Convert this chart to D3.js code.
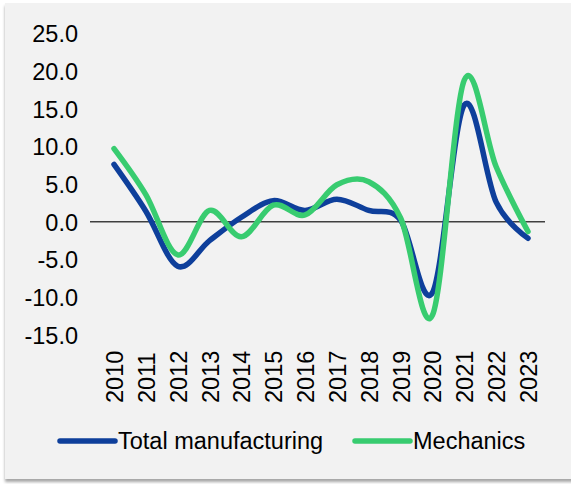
<!DOCTYPE html>
<html>
<head>
<meta charset="utf-8">
<script src="https://cdn.jsdelivr.net/npm/d3@7"></script>
<style>
  body { margin: 0; background: #ffffff; }
  text { font-family: "Liberation Sans", Arial, sans-serif; fill: #000; }
</style>
</head>
<body>
<div id="chart-area"></div>
<script>
var years = ["2010","2011","2012","2013","2014","2015","2016","2017","2018","2019","2020","2021","2022","2023"];
var totalManufacturing = [7.6, 1.4, -5.9, -2.5, 0.6, 2.8, 1.5, 3.0, 1.5, 0.2, -9.4, 15.5, 2.6, -2.2];
var mechanics = [9.7, 3.6, -4.4, 1.5, -2.0, 2.2, 0.9, 4.9, 5.3, 0.5, -12.4, 18.8, 7.3, -1.3];
var yTicks = [25, 20, 15, 10, 5, 0, -5, -10, -15];
var seriesNames = ["Total manufacturing", "Mechanics"];
var colors = ["#0e3f9b", "#38cc70"];

var outerWidth = 571;
var outerHeight = 484;
var fontSize = '23.5px';

var svg = d3.select('#chart-area').append('svg')
            .attr('width', outerWidth)
            .attr('height', outerHeight);

// panel with shadow
var defs = svg.append('defs');
var f = defs.append('filter').attr('id', 'shadow')
            .attr('x', '-5%').attr('y', '-5%').attr('width', '110%').attr('height', '110%');
f.append('feDropShadow').attr('dx', 0).attr('dy', 3).attr('stdDeviation', 1.5)
 .attr('flood-color', '#000').attr('flood-opacity', 0.35);

svg.append('rect')
   .attr('x', 5).attr('y', 3)
   .attr('width', 570).attr('height', 476)
   .attr('fill', '#f2f2f2')
   .attr('filter', 'url(#shadow)');

// scales
var xScale = d3.scalePoint().domain(years).range([114, 528]);
var yScale = d3.scaleLinear().domain([-15, 25]).range([334.8, 33.3]);

// y axis labels
var yAxis = d3.axisLeft(yScale)
              .tickValues(yTicks)
              .tickSize(0)
              .tickPadding(0);
var yAxisG = svg.append('g')
                .attr('transform', 'translate(78,0)')
                .call(yAxis);
yAxisG.select('.domain').remove();
yAxisG.selectAll('text')
      .attr('font-size', fontSize)
      .attr('font-family', '"Liberation Sans", Arial, sans-serif')
      .attr('fill', '#000')
      .attr('dy', '0.36em')
      .text(function(d){ return d3.format('.1f')(d).replace('−', '-'); });

// zero line
svg.append('line')
   .attr('x1', 90).attr('x2', 545)
   .attr('y1', yScale(0)).attr('y2', yScale(0))
   .attr('stroke', '#404040')
   .attr('stroke-width', 1.5);

// x axis labels (rotated)
var xAxis = d3.axisBottom(xScale).tickSize(0).tickPadding(0);
var xAxisG = svg.append('g')
                .attr('transform', 'translate(0,403)')
                .call(xAxis);
xAxisG.select('.domain').remove();
xAxisG.selectAll('text')
      .attr('font-size', fontSize)
      .attr('font-family', '"Liberation Sans", Arial, sans-serif')
      .attr('fill', '#000')
      .attr('transform', 'rotate(-90)')
      .attr('text-anchor', 'start')
      .attr('x', 0)
      .attr('y', 0)
      .attr('dy', '0.36em');

// lines
var line = d3.line()
             .x(function(d, i){ return xScale(years[i]); })
             .y(function(d){ return yScale(d); })
             .curve(d3.curveCatmullRom.alpha(0));

[totalManufacturing, mechanics].forEach(function(s, i){
  svg.append('path')
     .attr('d', line(s))
     .attr('fill', 'none')
     .attr('stroke', colors[i])
     .attr('stroke-width', 5.5)
     .attr('stroke-linecap', 'round')
     .attr('stroke-linejoin', 'round');
});

// legend
var legendX = [60, 355];
seriesNames.forEach(function(name, i){
  var lg = svg.append('g').attr('transform', 'translate(' + legendX[i] + ',441)');
  lg.append('line')
    .attr('x1', 0).attr('x2', 55)
    .attr('y1', 0).attr('y2', 0)
    .attr('stroke', colors[i])
    .attr('stroke-width', 5.5)
    .attr('stroke-linecap', 'round');
  lg.append('text')
    .attr('x', 58)
    .attr('y', 0)
    .attr('dy', '0.36em')
    .attr('font-size', fontSize)
    .text(name);
});
</script>
</body>
</html>
